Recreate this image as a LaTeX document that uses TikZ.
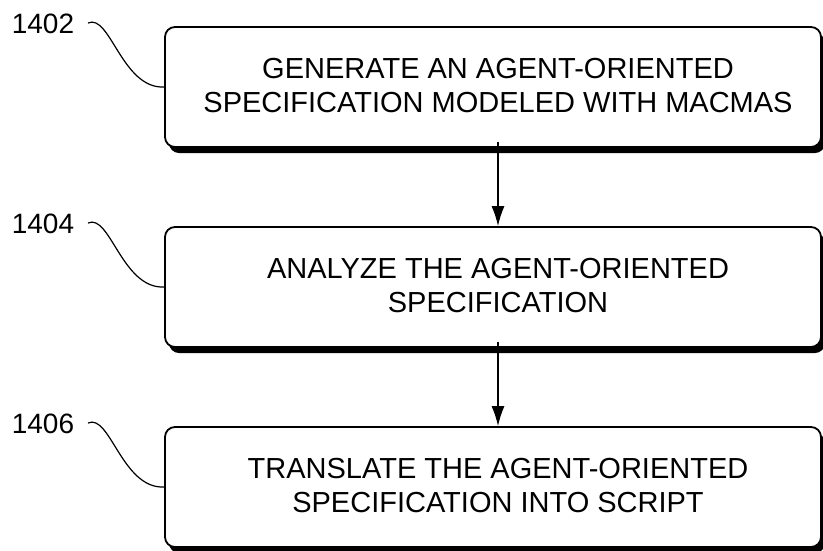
\documentclass[tikz,border=0pt]{standalone}
\usepackage{fontspec}
\setmainfont{Liberation Sans}
\usetikzlibrary{shadows,arrows.meta}
\begin{document}
\begin{tikzpicture}[x=1pt,y=-1pt,
  stepbox/.style={draw=black, line width=1.8pt, fill=white, rounded corners=10pt,
    minimum width=656pt, minimum height=120pt, inner sep=0pt,
    drop shadow={shadow xshift=4pt, shadow yshift=-6pt, fill=black, opacity=1}},
  steptext/.style={inner sep=0pt, align=center, font=\fontsize{29}{34}\selectfont},
  reflabel/.style={inner sep=0pt, font=\fontsize{28}{30}\selectfont},
  leader/.style={line width=1.2pt},
  flow/.style={line width=1.3pt, -{Latex[length=20pt,width=13pt]}}]
\useasboundingbox (0,0) rectangle (823,550);
\node[stepbox] (b1) at (493,87) {};
\node[stepbox] (b2) at (493,287) {};
\node[stepbox] (b3) at (493,487) {};
\node[steptext] (t1) at (498,86) {GENERATE AN AGENT-ORIENTED\\SPECIFICATION MODELED WITH MACMAS};
\node[steptext] (t2) at (498,286) {ANALYZE THE AGENT-ORIENTED\\SPECIFICATION};
\node[steptext] (t3) at (498,486) {TRANSLATE THE AGENT-ORIENTED\\SPECIFICATION INTO SCRIPT};
\node[reflabel] (l1) at (43,24) {1402};
\node[reflabel] (l2) at (43,224) {1404};
\node[reflabel] (l3) at (43,424) {1406};
\coordinate (s1) at (88,23);
\coordinate (s2) at (88,223);
\coordinate (s3) at (88,423);
\draw[leader] (s1) .. controls (110,13) and (122,89) .. (b1.west);
\draw[leader] (s2) .. controls (110,213) and (122,289) .. (b2.west);
\draw[leader] (s3) .. controls (110,413) and (122,489) .. (b3.west);
\draw[flow] ([yshift=6pt]b1.south -| 498,0) -- (b2.north -| 498,0);
\draw[flow] ([yshift=6pt]b2.south -| 498,0) -- (b3.north -| 498,0);
\end{tikzpicture}
\end{document}
